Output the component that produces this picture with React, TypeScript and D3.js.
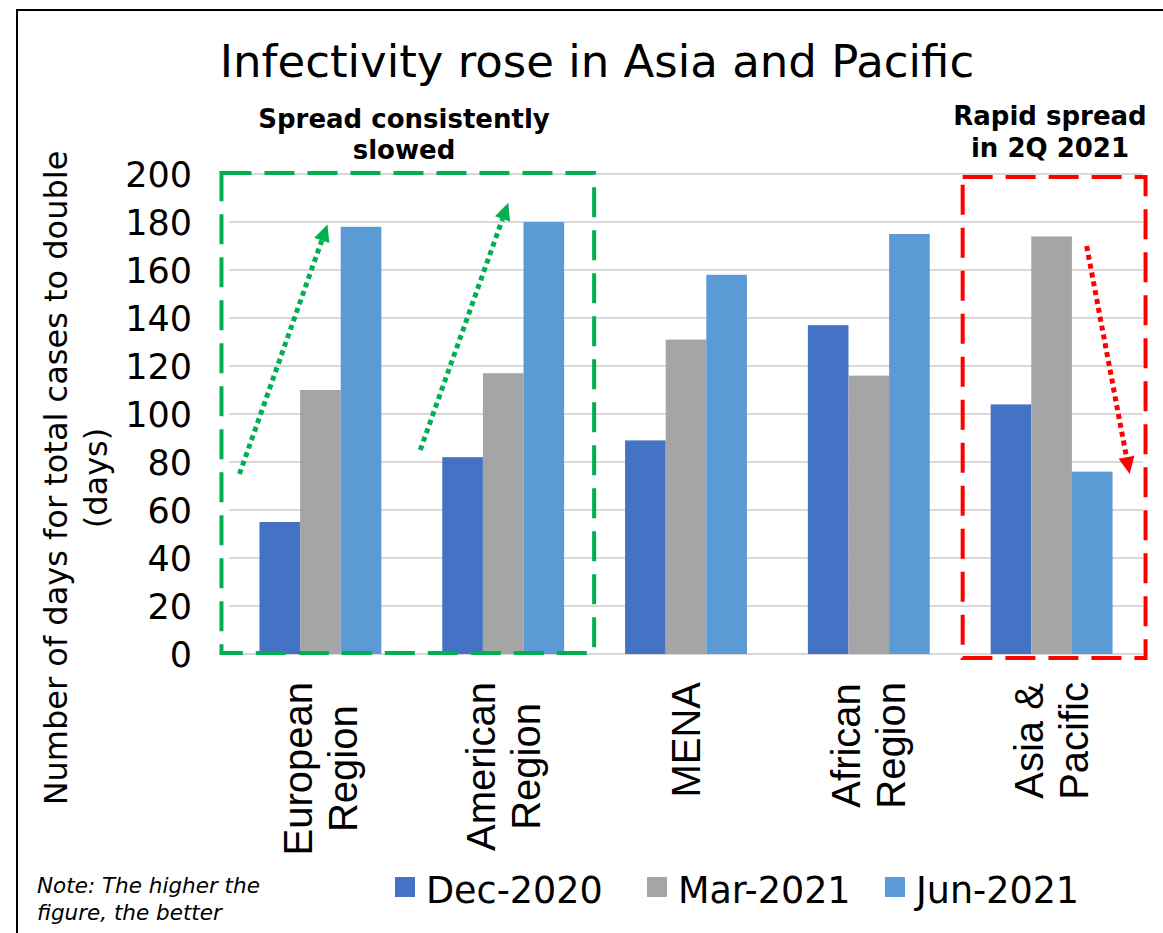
import React from "react";
import * as d3 from "d3";

const width = 1163;
const height = 933;

// data
const categories = ["European Region", "American Region", "MENA", "African Region", "Asia & Pacific"];
const categoryLines = [["European", "Region"], ["American", "Region"], ["MENA"], ["African", "Region"], ["Asia &", "Pacific"]];
const seriesNames = ["Dec-2020", "Mar-2021", "Jun-2021"];
const seriesColors = ["#4472C4", "#A5A5A5", "#5B9BD5"];
const dec2020 = [55, 82, 89, 137, 104];
const mar2021 = [110, 117, 131, 116, 174];
const jun2021 = [178, 180, 158, 175, 76];
const yTicks = [0, 20, 40, 60, 80, 100, 120, 140, 160, 180, 200];

const font = "'DejaVu Sans', Verdana, sans-serif";
const catFont = "'Liberation Sans', Arial, sans-serif";
const catSize = 40;

// measure text width so rotated label blocks start at the same point
let ctx: CanvasRenderingContext2D | null = null;
function textWidth(s: string) {
  if (!ctx) ctx = document.createElement("canvas").getContext("2d");
  if (!ctx) return s.length * catSize * 0.55;
  ctx.font = `${catSize}px ${catFont}`;
  return ctx.measureText(s).width;
}

export default function App() {
  const series = [dec2020, mar2021, jun2021];

  const x = d3.scaleBand<string>()
    .domain(categories)
    .range([229, 1143])
    .paddingInner(1 / 3)
    .paddingOuter(1 / 6);
  const xs = d3.scaleBand<number>()
    .domain(d3.range(series.length))
    .range([0, x.bandwidth()]);
  const y = d3.scaleLinear().domain([0, 200]).range([654, 174]);

  // arrows: offsets from the band start, values on the y scale
  const arrows = [
    { cat: "European Region", x0: -20, v0: 75, x1: 68, v1: 179, color: "#00B050" },
    { cat: "American Region", x0: -22, v0: 85, x1: 66, v1: 188, color: "#00B050" },
    { cat: "Asia & Pacific", x0: 96, v0: 170, x1: 139, v1: 75, color: "#FF0000" },
  ];

  const bandStart = (c: string) => x(c) as number;

  const arrowEl = (a: typeof arrows[0], i: number) => {
    const sx = bandStart(a.cat) + a.x0, sy = y(a.v0);
    const ex = bandStart(a.cat) + a.x1, ey = y(a.v1);
    const ang = Math.atan2(ey - sy, ex - sx);
    const len = 17, half = 8;
    const bx = ex - len * Math.cos(ang), by = ey - len * Math.sin(ang);
    const px = -Math.sin(ang) * half, py = Math.cos(ang) * half;
    return (
      <g key={i}>
        <line x1={sx} y1={sy} x2={bx} y2={by} stroke={a.color} strokeWidth={5} strokeDasharray="5 4" />
        <path d={`M${ex},${ey}L${bx + px},${by + py}L${bx - px},${by - py}Z`} fill={a.color} />
      </g>
    );
  };

  const greenX0 = bandStart("European Region") - 38;
  const greenX1 = bandStart("American Region") + x.bandwidth() + 30;
  const redX0 = bandStart("Asia & Pacific") - 28;
  const redX1 = bandStart("Asia & Pacific") + x.bandwidth() + 33;

  return (
    <svg width={width} height={height} style={{ position: "absolute", left: 0, top: 0, background: "#fff" }} fontFamily={font}>
      <rect x={17} y={10} width={1170} height={960} fill="#fff" stroke="#000" strokeWidth={2} />

      <text x={597} y={77} textAnchor="middle" fontSize={45} fill="#000">Infectivity rose in Asia and Pacific</text>

      {/* grid */}
      {yTicks.map(t => (
        <g key={t}>
          <line x1={229} x2={1143} y1={y(t)} y2={y(t)} stroke="#D9D9D9" strokeWidth={2} />
          <text x={192} y={y(t)} dy="0.36em" textAnchor="end" fontSize={35} fill="#000">{t}</text>
        </g>
      ))}

      {/* bars */}
      {categories.map((c, ci) => (
        <g key={c} transform={`translate(${bandStart(c)},0)`}>
          {series.map((s, si) => (
            <rect key={si} x={xs(si)} y={y(s[ci])} width={xs.bandwidth()} height={y(0) - y(s[ci])}
              fill={seriesColors[si]} />
          ))}
        </g>
      ))}

      {/* category labels */}
      {categories.map((c, ci) => {
        const cx = bandStart(c) + x.bandwidth() / 2;
        const lines = categoryLines[ci];
        const lh = 45;
        const first = cx - ((lines.length - 1) * lh) / 2 + 14;
        const maxW = d3.max(lines, l => textWidth(l)) as number;
        const mid = 682 + maxW / 2;
        return (
          <text key={c} transform={`translate(${first},${mid}) rotate(-90)`} textAnchor="middle"
            fontSize={catSize} fontFamily={catFont} fill="#000">
            {lines.map((l, li) => (
              <tspan key={li} x={0} y={li * lh}>{l}</tspan>
            ))}
          </text>
        );
      })}

      {/* y axis title */}
      <text transform="translate(67,478) rotate(-90)" textAnchor="middle" fontSize={32} fill="#000">
        <tspan x={0} y={0}>Number of days for total cases to double</tspan>
        <tspan x={0} y={40}>(days)</tspan>
      </text>

      {/* highlight boxes */}
      <rect x={greenX0} y={y(200) - 1} width={greenX1 - greenX0} height={y(0) - y(200)} fill="none"
        stroke="#00B050" strokeWidth={4} strokeDasharray="30 13" />
      <rect x={redX0} y={y(200) + 3} width={redX1 - redX0} height={y(0) - y(200) + 1} fill="none"
        stroke="#FF0000" strokeWidth={4} strokeDasharray="30 13" />

      {arrows.map(arrowEl)}

      <text textAnchor="middle" fontSize={26} fontWeight="bold" fill="#000">
        <tspan x={404} y={128}>Spread consistently</tspan>
        <tspan x={404} y={159}>slowed</tspan>
      </text>
      <text textAnchor="middle" fontSize={26} fontWeight="bold" fill="#000">
        <tspan x={1050} y={125}>Rapid spread</tspan>
        <tspan x={1050} y={157}>in 2Q 2021</tspan>
      </text>

      {/* legend */}
      {seriesNames.map((n, i) => {
        const lx = [395, 647, 885][i];
        return (
          <g key={n}>
            <rect x={lx} y={877} width={20} height={20} fill={seriesColors[i]} />
            <text x={lx + 31} y={903} fontSize={36.5} fill="#000">{n}</text>
          </g>
        );
      })}

      <text fontSize={21.5} fontStyle="italic" fill="#000">
        <tspan x={37} y={893}>Note: The higher the</tspan>
        <tspan x={37} y={920}>figure, the better</tspan>
      </text>
    </svg>
  );
}
